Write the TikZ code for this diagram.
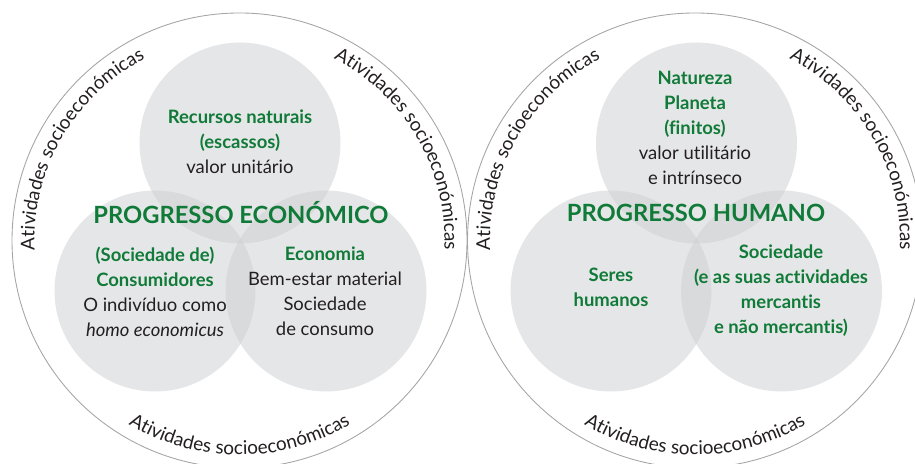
\documentclass[tikz,border=0pt]{standalone}
\usepackage{fontspec}
\setmainfont{Lato}[Ligatures=NoCommon]
\usetikzlibrary{decorations.text, calc}
\definecolor{progreen}{RGB}{16,122,56}
\definecolor{vennfill}{RGB}{204,206,208}
\definecolor{rimgray}{RGB}{165,165,165}
\definecolor{inktext}{RGB}{35,31,32}
\newcommand{\verde}[1]{\textcolor{progreen}{\bfseries #1}}

\begin{document}
\begin{tikzpicture}[
  every node/.style={font=\fontsize{10.5}{14.2}\selectfont, text=inktext,
    align=center, inner sep=0pt},
  venn/.style={fill=vennfill, fill opacity=0.5},
  rim/.style={draw=rimgray, line width=0.5pt},
  titulo/.style={font=\fontsize{13.5}{16}\selectfont\bfseries, text=progreen},
  anel/.style={decorate, decoration={text along path, text align=center,
    text color=inktext,
    text={|\fontsize{10.8}{12}\selectfont|Atividades socioeconómicas}}}
]
  \useasboundingbox (0,0) rectangle (18.3,9.28);
  \clip (0,0) rectangle (18.3,9.28);

  % Centros dos dois anéis
  \coordinate (cE) at (4.79,4.47);
  \coordinate (cH) at (13.90,4.47);

  % Anéis exteriores
  \draw[rim] (cE) circle[radius=4.55];
  \draw[rim] (cH) circle[radius=4.55];

  % Texto curvo ao longo dos anéis
  \foreach \c in {cE,cH} {
    \path[anel] ($(\c)+(200:4.1)$) arc[start angle=200, end angle=100, radius=4.1];
    \path[anel] ($(\c)+(80:4.1)$) arc[start angle=80, end angle=-20, radius=4.1];
    \path[anel] ($(\c)+(220:4.29)$) arc[start angle=220, end angle=320, radius=4.29];
  }

  % Círculos interiores (progresso económico)
  \fill[venn] (4.80,6.42) circle[radius=2.01];
  \fill[venn] (3.10,3.46) circle[radius=2.01];
  \fill[venn] (6.52,3.46) circle[radius=2.01];

  % Círculos interiores (progresso humano)
  \fill[venn] (13.93,6.42) circle[radius=2.01];
  \fill[venn] (12.22,3.46) circle[radius=2.01];
  \fill[venn] (15.63,3.46) circle[radius=2.01];

  % Textos do lado esquerdo
  \node (recursos) at (4.80,6.44) {\verde{Recursos naturais}\\ \verde{(escassos)}\\ valor unitário};
  \node[titulo] (progE) at (4.82,5.02) {PROGRESSO ECONÓMICO};
  \node (consum) at (3.10,3.45) {\verde{(Sociedade de)}\\ \verde{Consumidores}\\ O indivíduo como\\ \textit{homo economicus}};
  \node (economia) at (6.50,3.45) {\verde{Economia}\\ Bem-estar material\\ Sociedade\\ de consumo};

  % Textos do lado direito
  \node (natureza) at (13.90,6.72) {\verde{Natureza}\\ \verde{Planeta}\\ \verde{(finitos)}\\ valor utilitário\\ e intrínseco};
  \node[titulo] (progH) at (13.92,5.02) {PROGRESSO HUMANO};
  \node (seres) at (12.22,3.53) {\verde{Seres}\\ \verde{humanos}};
  \node (sociedade) at (15.62,3.46) {\verde{Sociedade}\\ \verde{(e as suas actividades}\\ \verde{mercantis}\\ \verde{e não mercantis)}};

\end{tikzpicture}
\end{document}
